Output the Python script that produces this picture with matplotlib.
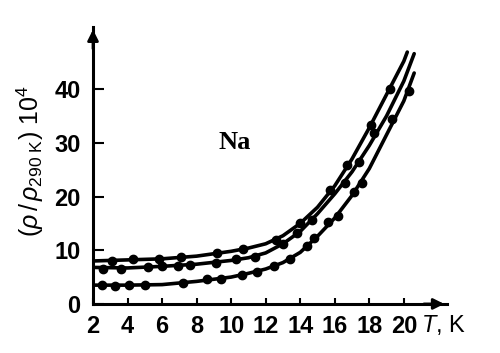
import matplotlib.pyplot as plt
from matplotlib import font_manager

# smooth curves (T in K, rho ratio x 10^4)
t_top = [2, 4, 6, 8, 10, 11, 12, 13, 14, 15, 16, 17, 18, 19, 20, 20.2]
r_top = [8.0, 8.2, 8.4, 8.9, 9.8, 10.4, 11.2, 12.7, 15.0, 18.0, 22.0, 27.0, 32.8, 39.0, 45.2, 46.9]
t_mid = [2, 4, 6, 8, 10, 11, 12, 13, 14, 15, 16, 17, 18, 19, 20, 20.6]
r_mid = [6.8, 6.7, 7.0, 7.4, 8.1, 8.6, 9.5, 11.2, 13.5, 16.8, 20.5, 24.6, 29.5, 35.0, 41.5, 46.6]
t_bot = [2, 4, 6, 8, 9, 10, 11, 12, 13, 14, 15, 16, 17, 18, 19, 20, 20.6]
r_bot = [3.5, 3.5, 3.6, 4.2, 4.6, 5.0, 5.7, 6.5, 7.7, 9.6, 12.6, 16.0, 20.2, 25.2, 31.5, 37.8, 43.0]

# measured points
pt_top = [3.1, 4.3, 5.8, 7.1, 9.2, 10.7, 12.6, 14.0, 15.7, 16.7, 18.1, 19.2]
pr_top = [8.0, 8.4, 8.4, 8.7, 9.5, 10.2, 11.9, 15.1, 21.3, 25.9, 33.3, 40.0]
pt_mid = [2.6, 3.6, 5.2, 6.0, 6.9, 7.6, 9.1, 10.3, 11.4, 13.0, 13.8, 14.7, 16.6, 17.4, 18.3]
pr_mid = [6.5, 6.5, 6.9, 7.1, 7.1, 7.3, 7.7, 8.3, 8.8, 11.2, 13.2, 15.7, 22.5, 26.4, 31.8]
pt_bot = [2.5, 3.3, 4.1, 5.0, 7.2, 8.6, 9.4, 10.6, 11.5, 12.5, 13.4, 14.4, 14.8, 15.6, 16.2, 17.1, 17.6, 19.3, 20.3]
pr_bot = [3.5, 3.4, 3.5, 3.5, 3.9, 4.6, 4.7, 5.4, 6.0, 7.1, 8.4, 10.7, 12.3, 15.2, 16.3, 20.9, 22.6, 34.4, 39.6]

xticks = [2, 4, 6, 8, 10, 12, 14, 16, 18, 20]
yticks = [0, 10, 20, 30, 40]

# condensed sans if there is one, else Liberation Sans
names = {f.name for f in font_manager.fontManager.ttflist}
sans = 'Liberation Sans Narrow' if 'Liberation Sans Narrow' in names else 'Liberation Sans'
plt.rcParams['font.family'] = [sans, 'DejaVu Sans']
plt.rcParams['mathtext.fontset'] = 'custom'
plt.rcParams['mathtext.rm'] = sans
plt.rcParams['mathtext.it'] = sans + ':italic'

fig = plt.figure(figsize=(5, 3.53), dpi=100)
ax = fig.add_axes([0.186, 0.139, 0.708, 0.785])

for t, r in [(t_top, r_top), (t_mid, r_mid), (t_bot, r_bot)]:
    ax.plot(t, r, color='black', lw=2.6, solid_capstyle='round')
for t, r in [(pt_top, pr_top), (pt_mid, pr_mid), (pt_bot, pr_bot)]:
    ax.plot(t, r, 'o', color='black', ms=6)

ax.set_xlim(2, 22.5)
ax.set_ylim(0, 51.6)
ax.spines['top'].set_visible(False)
ax.spines['right'].set_visible(False)
ax.spines['left'].set_linewidth(2.2)
ax.spines['bottom'].set_linewidth(2.2)

# arrow heads on the axes
ax.annotate('', xy=(22.5, 0), xytext=(21.0, 0),
            arrowprops=dict(arrowstyle='-|>', color='black', lw=2, mutation_scale=16),
            annotation_clip=False)
ax.annotate('', xy=(2, 51.6), xytext=(2, 47),
            arrowprops=dict(arrowstyle='-|>', color='black', lw=2, mutation_scale=16),
            annotation_clip=False)

ax.set_xticks(xticks)
ax.set_yticks(yticks)
ax.tick_params(axis='x', direction='in', length=4, width=1.5, pad=8, labelsize=17)
ax.tick_params(axis='y', direction='in', length=8, width=1.5, pad=9, labelsize=17)
for lab in ax.get_xticklabels() + ax.get_yticklabels():
    lab.set_fontweight('bold')

ax.text(21.0, -4.0, '$T$, K', fontsize=17, va='center', ha='left', clip_on=False)
ax.text(10.2, 30.0, 'Na', fontsize=19, family='Liberation Serif', weight='bold',
        va='center', ha='center')

fig.text(0.06, 0.545, r'$(\rho\,/\,\rho_{290\ \mathrm{K}})\ 10^4$', rotation=90,
         fontsize=18, va='center', ha='center')

fig.savefig('out.png', dpi=100)
